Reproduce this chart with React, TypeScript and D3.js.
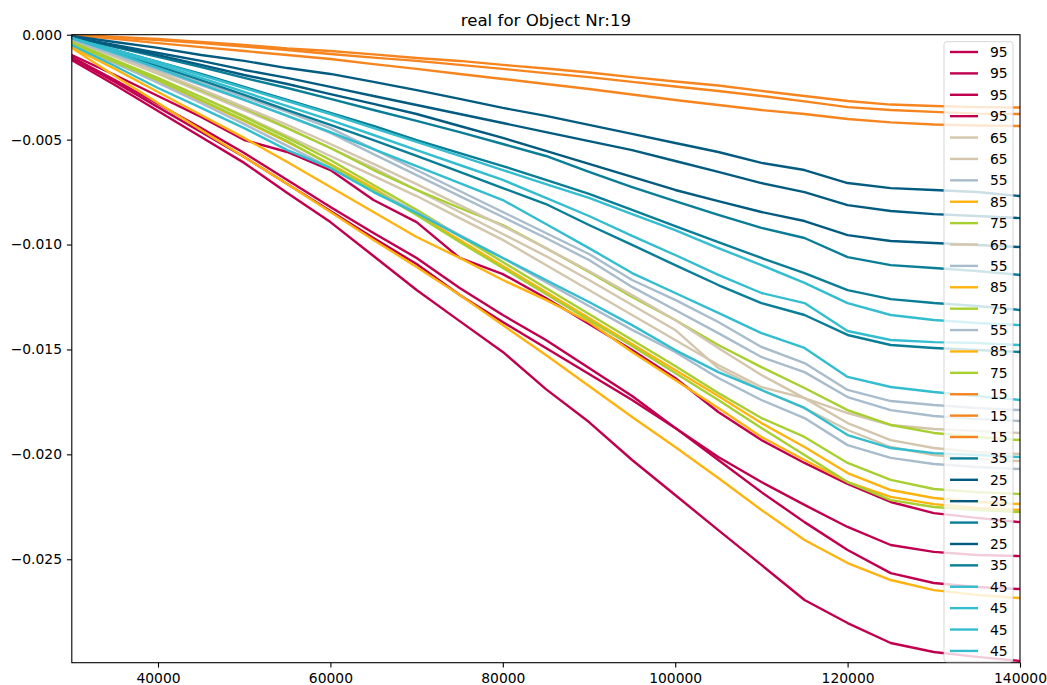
import { useEffect, useRef } from "react";
import * as d3 from "d3";

const W = 1047;
const H = 685;

const title = "real for Object Nr:19";

const xValues = [
  30000, 35000, 40000, 45000, 50000, 55000, 60000, 65000, 70000, 75000, 80000, 85000,
  90000, 95000, 100000, 105000, 110000, 115000, 120000, 125000, 130000, 135000, 140000,
];

// series values in thousandths (x 1e-3)
const s95a = [-0.97, -1.92, -2.92, -3.92, -5.02, -5.59, -6.45, -7.88, -8.93, -10.64, -11.41, -12.55, -13.79, -15.03, -16.36, -17.98, -19.32, -20.41, -21.41, -22.27, -22.8, -23.03, -23.23];
const s95b = [-1.06, -2.16, -3.3, -4.45, -5.64, -6.93, -8.21, -9.45, -10.64, -12.07, -13.36, -14.55, -15.89, -17.22, -18.74, -20.13, -21.32, -22.41, -23.46, -24.32, -24.65, -24.8, -24.85];
const s95c = [-1.11, -2.25, -3.45, -4.64, -5.83, -7.12, -8.4, -9.69, -10.93, -12.41, -13.69, -14.93, -16.17, -17.41, -18.74, -20.27, -21.8, -23.23, -24.56, -25.66, -26.13, -26.32, -26.42];
const s95d = [-1.21, -2.4, -3.64, -4.88, -6.11, -7.54, -8.93, -10.55, -12.17, -13.65, -15.12, -16.89, -18.46, -20.27, -21.94, -23.61, -25.27, -26.94, -28.04, -28.99, -29.42, -29.65, -29.85];
const s65a = [-0.35, -1.21, -2.11, -2.97, -3.87, -4.83, -5.78, -6.73, -7.69, -8.74, -9.78, -10.98, -12.17, -13.36, -14.55, -15.74, -16.79, -17.32, -18.03, -18.6, -18.79, -18.89, -18.98];
const s65b = [-0.3, -1.06, -1.87, -2.73, -3.59, -4.45, -5.4, -6.35, -7.4, -8.45, -9.5, -10.55, -11.69, -12.88, -14.07, -15.89, -16.93, -17.79, -18.84, -19.65, -20.03, -20.22, -20.32];
const s55a = [-0.16, -0.82, -1.54, -2.25, -2.97, -3.68, -4.45, -5.45, -6.45, -7.45, -8.45, -9.45, -10.45, -11.69, -12.64, -13.69, -14.88, -15.65, -16.93, -17.46, -17.65, -17.79, -17.89];
const s85a = [-0.49, -1.35, -2.25, -3.16, -4.11, -5.11, -6.16, -7.31, -8.55, -9.78, -11.02, -12.26, -13.5, -14.74, -15.98, -17.22, -18.51, -19.65, -20.89, -21.7, -22.08, -22.27, -22.37];
const s75a = [-0.25, -0.97, -1.78, -2.64, -3.49, -4.45, -5.4, -6.45, -7.4, -8.26, -9.07, -10.17, -11.31, -12.5, -13.6, -14.79, -15.84, -16.84, -17.89, -18.6, -18.98, -19.17, -19.32];
const s65c = [-0.3, -1.02, -1.78, -2.59, -3.45, -4.3, -5.21, -6.16, -7.12, -8.12, -9.12, -10.17, -11.26, -12.41, -13.6, -14.93, -16.22, -17.32, -18.51, -19.32, -19.7, -19.89, -19.98];
const s55b = [-0.25, -0.97, -1.68, -2.4, -3.11, -3.87, -4.68, -5.69, -6.69, -7.69, -8.69, -9.69, -10.74, -12.02, -13.12, -14.22, -15.36, -16.08, -17.27, -17.89, -18.17, -18.32, -18.41];
const s85b = [-0.59, -1.63, -2.73, -3.83, -4.92, -6.07, -7.26, -8.45, -9.64, -10.64, -11.69, -12.64, -13.69, -15.12, -16.46, -17.79, -19.17, -20.27, -21.32, -22.03, -22.37, -22.56, -22.65];
const s75b = [-0.35, -1.21, -2.06, -2.97, -3.92, -4.92, -5.97, -7.16, -8.35, -9.59, -10.83, -12.07, -13.31, -14.55, -15.79, -17.08, -18.27, -19.17, -20.41, -21.22, -21.65, -21.8, -21.89];
const s55c = [-0.44, -1.35, -2.3, -3.26, -4.26, -5.3, -6.35, -7.4, -8.45, -9.55, -10.64, -11.79, -12.93, -14.07, -15.12, -16.36, -17.41, -18.27, -19.56, -20.17, -20.46, -20.6, -20.7];
const s85c = [-0.63, -1.97, -3.26, -4.54, -5.83, -7.12, -8.45, -9.78, -11.07, -12.41, -13.84, -15.27, -16.74, -18.22, -19.65, -21.13, -22.65, -24.08, -25.18, -25.99, -26.47, -26.7, -26.85];
const s75c = [-0.44, -1.3, -2.16, -3.11, -4.07, -5.07, -6.21, -7.4, -8.59, -9.88, -11.12, -12.36, -13.6, -14.84, -16.12, -17.41, -18.74, -20.03, -21.32, -22.18, -22.51, -22.65, -22.75];
const s15a = [0.0, -0.11, -0.2, -0.35, -0.49, -0.66, -0.78, -0.94, -1.11, -1.25, -1.44, -1.61, -1.8, -2.02, -2.23, -2.42, -2.68, -2.92, -3.16, -3.33, -3.4, -3.45, -3.47];
const s15b = [-0.01, -0.13, -0.25, -0.4, -0.56, -0.73, -0.92, -1.09, -1.25, -1.44, -1.63, -1.83, -2.02, -2.25, -2.47, -2.68, -2.92, -3.18, -3.45, -3.59, -3.68, -3.76, -3.78];
const s15c = [-0.01, -0.2, -0.4, -0.59, -0.78, -0.97, -1.16, -1.4, -1.63, -1.87, -2.11, -2.35, -2.59, -2.85, -3.11, -3.35, -3.59, -3.78, -4.02, -4.18, -4.28, -4.33, -4.35];
const s35a = [-0.11, -0.59, -1.06, -1.54, -2.06, -2.54, -3.06, -3.59, -4.11, -4.64, -5.21, -5.78, -6.54, -7.26, -7.93, -8.59, -9.21, -9.69, -10.6, -10.98, -11.12, -11.26, -11.45];
const s25a = [-0.06, -0.35, -0.63, -0.97, -1.25, -1.59, -1.87, -2.25, -2.64, -3.06, -3.49, -3.87, -4.3, -4.73, -5.16, -5.59, -6.11, -6.45, -7.07, -7.31, -7.4, -7.5, -7.69];
const s25b = [-0.11, -0.49, -0.87, -1.25, -1.68, -2.06, -2.49, -2.92, -3.35, -3.78, -4.21, -4.64, -5.07, -5.5, -6.02, -6.54, -7.07, -7.5, -8.12, -8.4, -8.55, -8.64, -8.74];
const s35b = [-0.16, -0.73, -1.3, -1.87, -2.49, -3.11, -3.73, -4.35, -5.02, -5.64, -6.26, -6.92, -7.59, -8.35, -9.12, -9.88, -10.64, -11.36, -12.17, -12.6, -12.79, -12.93, -13.12];
const s25c = [-0.11, -0.54, -0.97, -1.44, -1.92, -2.35, -2.83, -3.3, -3.78, -4.35, -4.92, -5.54, -6.16, -6.78, -7.4, -7.93, -8.45, -8.88, -9.55, -9.83, -9.93, -10.02, -10.12];
const s35c = [-0.16, -0.82, -1.49, -2.16, -2.87, -3.59, -4.3, -5.02, -5.78, -6.54, -7.31, -8.07, -9.07, -10.02, -10.98, -11.93, -12.79, -13.36, -14.31, -14.79, -14.93, -15.03, -15.12];
const s45a = [-0.16, -0.73, -1.3, -1.92, -2.54, -3.16, -3.78, -4.45, -5.11, -5.78, -6.45, -7.12, -7.78, -8.55, -9.31, -10.17, -10.98, -11.83, -12.79, -13.36, -13.6, -13.74, -13.84];
const s45b = [-0.16, -0.78, -1.4, -2.06, -2.73, -3.4, -4.07, -4.78, -5.5, -6.21, -6.92, -7.78, -8.64, -9.59, -10.5, -11.45, -12.31, -12.79, -14.12, -14.55, -14.65, -14.69, -14.79];
const s45c = [-0.16, -0.87, -1.59, -2.35, -3.11, -3.87, -4.64, -5.45, -6.26, -7.07, -7.88, -9.02, -10.17, -11.36, -12.31, -13.26, -14.22, -14.93, -16.31, -16.79, -17.03, -17.22, -17.41];
const s45d = [-0.49, -1.49, -2.54, -3.49, -4.45, -5.5, -6.35, -7.5, -8.5, -9.59, -10.64, -11.69, -12.74, -13.84, -15.03, -16.08, -16.93, -17.79, -19.08, -19.7, -19.94, -20.03, -20.13];

const seriesLabels = [
  "95", "95", "95", "95", "65", "65", "55", "85", "75", "65", "55", "85", "75", "55", "85",
  "75", "15", "15", "15", "35", "25", "25", "35", "25", "35", "45", "45", "45", "45",
];
const seriesValues = [
  s95a, s95b, s95c, s95d, s65a, s65b, s55a, s85a, s75a, s65c, s55b, s85b, s75b, s55c, s85c,
  s75c, s15a, s15b, s15c, s35a, s25a, s25b, s35b, s25c, s35c, s45a, s45b, s45c, s45d,
];

const labelColors: Record<string, string> = {
  "15": "#f7851f",
  "25": "#035c80",
  "35": "#0a7e96",
  "45": "#33bdcf",
  "55": "#a8bccb",
  "65": "#d3c6ad",
  "75": "#a8cf30",
  "85": "#ffb30f",
  "95": "#c0004f",
};

const xTicks = [40000, 60000, 80000, 100000, 120000, 140000];
const yTicks = [0, -0.005, -0.01, -0.015, -0.02, -0.025];
const xDomain = [30000, 140000];
const yDomain = [-0.02993, 0];

const FONT = "DejaVu Sans, sans-serif";

export default function App() {
  const ref = useRef<HTMLDivElement>(null);

  useEffect(() => {
    const container = ref.current;
    if (!container) return;
    document.body.style.margin = "0";

    const margin = { top: 34.7, right: 27, bottom: 22.3, left: 71.8 };
    const innerW = W - margin.left - margin.right;
    const innerH = H - margin.top - margin.bottom;

    const svg = d3
      .select(container)
      .append("svg")
      .attr("width", W)
      .attr("height", H)
      .style("display", "block")
      .style("background", "#fff");

    const x = d3.scaleLinear().domain(xDomain).range([margin.left, W - margin.right]);
    const y = d3.scaleLinear().domain(yDomain).range([H - margin.bottom, margin.top]);

    svg
      .append("defs")
      .append("clipPath")
      .attr("id", "plot-clip")
      .append("rect")
      .attr("x", margin.left)
      .attr("y", margin.top)
      .attr("width", innerW)
      .attr("height", innerH);

    const line = d3
      .line<number>()
      .x((_, i) => x(xValues[i]))
      .y((d) => y(d * 1e-3));

    const lines = svg.append("g").attr("clip-path", "url(#plot-clip)");
    seriesValues.forEach((vals, i) => {
      lines
        .append("path")
        .datum(vals)
        .attr("d", line)
        .attr("fill", "none")
        .attr("stroke", labelColors[seriesLabels[i]])
        .attr("stroke-width", 2.4)
        .attr("stroke-linejoin", "round")
        .attr("stroke-linecap", "square");
    });

    // axes
    const xAxis = svg
      .append("g")
      .attr("transform", `translate(0,${H - margin.bottom})`)
      .call(
        d3
          .axisBottom(x)
          .tickValues(xTicks)
          .tickSize(4.9)
          .tickPadding(5.5)
          .tickFormat(d3.format("d"))
      );
    const yAxis = svg
      .append("g")
      .attr("transform", `translate(${margin.left},0)`)
      .call(
        d3
          .axisLeft(y)
          .tickValues(yTicks)
          .tickSize(4.9)
          .tickPadding(4.9)
          .tickFormat(d3.format(".3f"))
      );
    [xAxis, yAxis].forEach((g) => {
      g.select(".domain").remove();
      g.attr("font-family", FONT).attr("font-size", 13.89);
      g.selectAll("line").attr("stroke", "#000").attr("stroke-width", 1.1);
      g.selectAll("text").attr("fill", "#000");
    });

    // frame
    svg
      .append("rect")
      .attr("x", margin.left)
      .attr("y", margin.top)
      .attr("width", innerW)
      .attr("height", innerH)
      .attr("fill", "none")
      .attr("stroke", "#000")
      .attr("stroke-width", 1.1);

    // title
    svg
      .append("text")
      .attr("x", margin.left + innerW / 2)
      .attr("y", 25.5)
      .attr("text-anchor", "middle")
      .attr("font-family", FONT)
      .attr("font-size", 16.67)
      .attr("fill", "#000")
      .text(title);

    // legend
    const lg = svg.append("g");
    const rowStep = 21.39;
    const firstRow = 52;
    const legLeft = 944;
    const legTop = 41.7;
    lg.append("rect")
      .attr("x", legLeft)
      .attr("y", legTop)
      .attr("width", 1013 - legLeft)
      .attr("height", firstRow + rowStep * (seriesLabels.length - 1) + 11 - legTop)
      .attr("rx", 2.8)
      .attr("fill", "#fff")
      .attr("fill-opacity", 0.8)
      .attr("stroke", "#cccccc")
      .attr("stroke-opacity", 0.8)
      .attr("stroke-width", 1);
    seriesLabels.forEach((lab, i) => {
      const cy = firstRow + i * rowStep;
      lg.append("line")
        .attr("x1", 950)
        .attr("x2", 978)
        .attr("y1", cy)
        .attr("y2", cy)
        .attr("stroke", labelColors[lab])
        .attr("stroke-width", 2.4);
      lg.append("text")
        .attr("x", 990)
        .attr("y", cy)
        .attr("dy", "0.36em")
        .attr("font-family", FONT)
        .attr("font-size", 13.89)
        .attr("fill", "#000")
        .text(lab);
    });

    return () => {
      svg.remove();
    };
  }, []);

  return <div ref={ref} />;
}
